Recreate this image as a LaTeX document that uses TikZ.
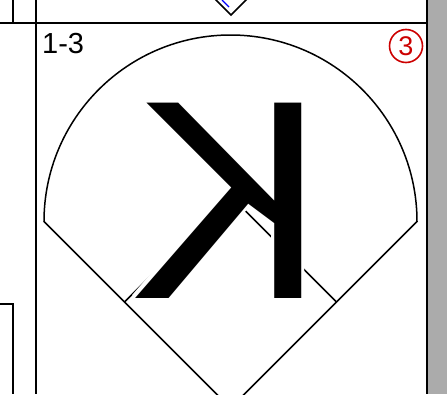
\documentclass[tikz,border=0pt]{standalone}
\usepackage{fontspec}
\setmainfont{Liberation Sans}
\usepackage{contour}
\usepackage{xcolor}
\usetikzlibrary{calc}

\definecolor{markred}{RGB}{204,0,0}
\definecolor{sidegray}{RGB}{171,171,171}
\contourlength{3pt}

\begin{document}
\begin{tikzpicture}[x=1pt, y=-1pt,
      frame/.style={line width=1.8pt},
      field/.style={line width=1.5pt},
      label/.style={anchor=base west, inner sep=0pt, font=\fontsize{29}{29}\selectfont},
      marker/.style={draw=markred, circle, line width=1.6pt, minimum size=33pt, inner sep=0pt, text=markred, font=\fontsize{27}{27}\selectfont},
      glyph/.style={anchor=base, inner sep=0pt, xscale=-1.02, font=\fontsize{284}{284}\selectfont}
    ]
    \useasboundingbox (0,0) rectangle (447,394);
    \clip (0,0) rectangle (447,394);

    % corner points of the field
    \coordinate (home)   at (230.5,408);
    \coordinate (lfoul)  at (44,221.5);
    \coordinate (rfoul)  at (417,221.5);
    \coordinate (first)  at (336.5,302);
    \coordinate (second) at (230.5,196);
    \coordinate (third)  at (124.5,302);

    % panel frame
    \fill[sidegray] (428,0) rectangle (447,394);
    \draw[frame] (427.3,0) -- (427.3,394);
    \draw[frame] (36,0) -- (36,394);
    \draw[frame] (0,23) -- (427.3,23);
    \draw[frame] (13,0) -- (13,23);
    \draw[frame] (0,304) -- (13,304) -- (13,394);

    % piece of the panel above
    \coordinate (tip) at (231,15);
    \draw[field] ($(tip)+(-16,-16)$) -- (tip) -- ($(tip)+(16,-16)$);
    \coordinate (bluetop) at (222,0);
    \coordinate (bluebot) at (229,7);
    \draw[blue, line width=1.2pt] (bluetop) -- (bluebot);

    % field
    \draw[field] (home) -- (lfoul) arc[start angle=180, end angle=360, radius=186.5] -- cycle;
    \draw[field] (third) -- (second) -- (first);

    \node[label] (code) at (42,53) {1-3};
    \node[marker] (num) at (406,46) {3};
    \node[glyph] (letter) at (228.5,298) {\contour{white}{K}};
\end{tikzpicture}
\end{document}
